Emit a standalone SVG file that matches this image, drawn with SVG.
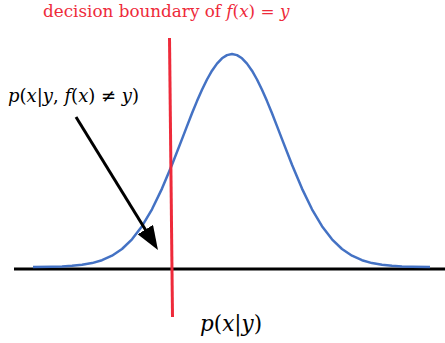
<svg xmlns="http://www.w3.org/2000/svg" width="445" height="343" viewBox="0 0 445 343">
<style>
.serif{font-family:"DejaVu Serif","Liberation Serif",serif}
.it{font-style:italic}
</style>
<defs>
<marker id="ah" markerUnits="userSpaceOnUse" markerWidth="26" markerHeight="18" refX="14" refY="9" orient="auto" viewBox="0 0 26 18">
<path d="M0,0 L24,9 L0,18 z" fill="#000"/>
</marker>
</defs>
<rect width="445" height="343" fill="#fff"/>
<g id="axis"><line x1="14" y1="269" x2="445" y2="269" stroke="#000" stroke-width="3"/></g>
<g id="gaussian">
<polyline fill="none" stroke="#4472C4" stroke-width="2.5" stroke-linejoin="round" points="33,267 52,266.7 62,266.4 72,265.85 82,264.8 92,263.1 102,260.2 112,255.7 122,249 132,239.3 142,226.2 152,209.3 162,188.6 172,164.8 182,139.1 187,126.1 192,113.3 197,101.1 202,89.7 207,79.5 212,70.7 217,63.6 222,58.3 227,55.1 232,54 237,55.1 242,58.3 247,63.6 252,70.7 257,79.5 262,89.7 267,101.1 272,113.3 277,126.1 282,139.1 292,164.8 302,188.6 312,209.3 322,226.2 332,239.3 342,249 352,255.7 362,260.2 372,263.1 382,264.8 392,265.85 402,266.4 412,266.7 430,267"/>
</g>
<g id="boundary"><line x1="169.5" y1="38" x2="172.5" y2="317" stroke="#EE2A3A" stroke-width="3"/></g>
<g id="connectors"><line x1="76" y1="117" x2="152.7" y2="241.5" stroke="#000" stroke-width="3" marker-end="url(#ah)"/></g>
<g id="title"><text class="serif" x="43" y="17" font-size="16.8" fill="#EE2A3A">decision boundary of <tspan class="it">f</tspan>(<tspan class="it">x</tspan>) = <tspan class="it">y</tspan></text></g>
<g id="label-left"><text class="serif" x="8" y="102" font-size="18" fill="#000"><tspan class="it">p</tspan>(<tspan class="it">x</tspan>|<tspan class="it">y</tspan>, <tspan class="it">f</tspan>(<tspan class="it">x</tspan>) ≠ <tspan class="it">y</tspan>)</text></g>
<g id="label-bottom"><text class="serif" x="200" y="331" font-size="21.5" fill="#000"><tspan class="it">p</tspan>(<tspan class="it">x</tspan>|<tspan class="it">y</tspan>)</text></g>
</svg>
